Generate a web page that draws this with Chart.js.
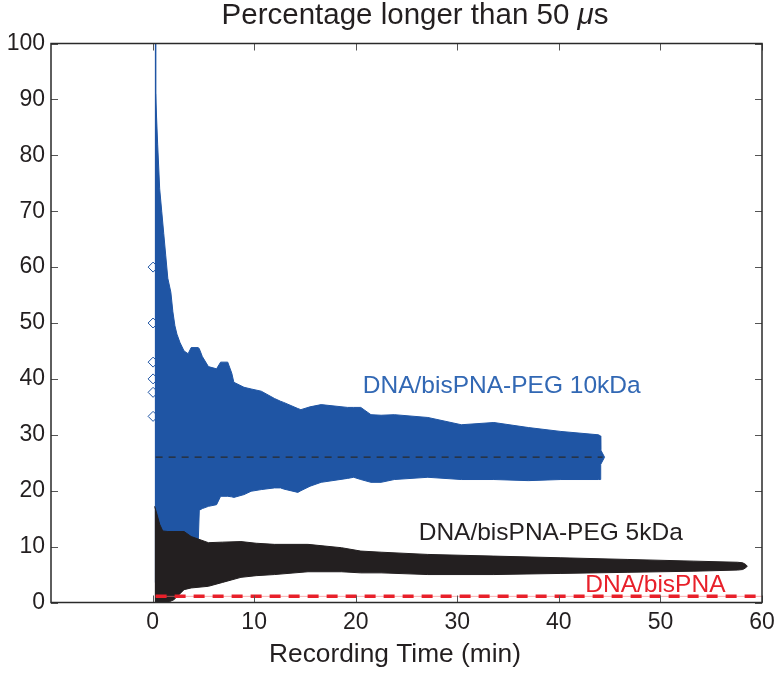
<!DOCTYPE html>
<html><head><meta charset="utf-8">
<script src="https://cdn.jsdelivr.net/npm/chart.js@4.4.0/dist/chart.umd.min.js"></script>
<style>html,body{margin:0;padding:0;background:#fff;}#wrap{width:774px;height:674px;}</style>
</head><body><div id="wrap"><canvas id="c" width="774" height="674"></canvas></div>
<script>
// ---- data ----
const xTicks = [0, 10, 20, 30, 40, 50, 60];
const yTicks = [0, 10, 20, 30, 40, 50, 60, 70, 80, 90, 100];

// DNA/bisPNA-PEG 10kDa: envelope of the error bars (upper / lower), minutes
const blueTime  = [0.3, 0.5, 0.7, 0.9, 1.1, 1.3, 1.5, 1.8, 2.0, 2.2, 2.4, 2.7, 3.1, 3.5, 3.8, 4.5, 4.6, 4.9, 5.5, 6.3, 6.7, 7.4, 7.8, 8.0, 9.0, 9.7, 10.7, 12.0, 12.6, 12.9, 14.3, 14.6, 15.5, 16.6, 19.2, 19.8, 20.5, 21.5, 22.5, 23.8, 27.1, 30.4, 33.6, 37.0, 40.2, 43.9, 44.1, 44.12, 44.5];
const blueUpper = [91, 82, 74, 70, 66, 62, 58, 55.5, 52, 49.5, 48, 46.5, 45, 44.5, 45.6, 45.6, 45.4, 44, 42.2, 41.8, 43, 43, 41, 39.4, 38.5, 38.2, 37.8, 36.5, 36, 35.8, 34.7, 34.5, 35, 35.4, 34.9, 34.9, 34.9, 33.6, 33.5, 33.6, 33.1, 31.8, 32.2, 31.3, 30.6, 30.0, 29.8, 27.3, 26];
const blueLower = [10, 10, 10, 10, 10, 10, 10, 10, 10, 10, 10, 10, 10, 11, 11, 11, 16.5, 16.8, 17.2, 17.5, 19, 19, 18.9, 18.8, 19.3, 19.9, 20.2, 20.5, 20.5, 20.3, 19.7, 20, 20.8, 21.5, 22.2, 22.4, 22, 21.5, 21.5, 22, 22.4, 22, 22, 21.8, 22, 22, 22, 24.7, 26];
const blueMean = 26;
const blueMeanSpan = [0.3, 44.3];
const blueSpikeTime = 0.3;
const blueSpikeRange = [3.6, 100];
const blueDiamondTime = 0.05;
const blueDiamondValues = [60, 50, 43, 40, 37.6, 33.3];

// DNA/bisPNA-PEG 5kDa
const blackTime  = [0.2, 0.4, 0.7, 1.0, 1.5, 2.1, 3.1, 3.8, 5.5, 6.9, 8.7, 10.2, 12.0, 15.3, 18.6, 20.5, 22.5, 27.1, 33.6, 40.2, 46.8, 53.3, 57.6, 58.1, 58.4, 58.55];
const blackUpper = [17.2, 16, 14, 12.8, 12.7, 12.7, 12.7, 11.8, 10.7, 10.8, 10.9, 10.6, 10.4, 10.4, 9.8, 9.2, 9.0, 8.6, 8.3, 8.0, 7.7, 7.4, 7.2, 7.1, 6.8, 6.5];
const blackLower = [0, 0, 0, 0, 0, 0.5, 2.3, 2.6, 2.9, 3.6, 4.5, 4.8, 5.0, 5.5, 5.5, 5.3, 5.3, 5.0, 5.0, 5.2, 5.4, 5.6, 5.8, 5.9, 6.2, 6.5];

// DNA/bisPNA
const redLevel = 1.1;
const redSpan = [0.3, 60];

const seriesNames = ['DNA/bisPNA-PEG 10kDa', 'DNA/bisPNA-PEG 5kDa', 'DNA/bisPNA'];
const titleParts = ['Percentage longer than 50 ', 'μ', 's'];
const xAxisTitle = 'Recording Time (min)';

// ---- colours ----
const BLUE = 'rgb(31,85,164)';
const BLUE_TEXT = 'rgb(50,104,180)';
const BLACK = '#231f20';
const RED = '#e8202a';
const FONT = '"Liberation Sans", Arial, Helvetica, sans-serif';

const pts = (xs, ys) => xs.map((x, i) => ({x: x, y: ys[i]}));
const flat = (xs, v) => xs.map(x => ({x: x, y: v}));

const datasets = [
  {data: flat(redSpan, redLevel), borderColor: RED, borderWidth: 3.5, borderDash: [11, 8], order: 0},
  {data: flat(redSpan, redLevel), borderColor: 'rgba(240,120,120,0.6)', borderWidth: 1, order: 0.5},
  {data: pts(blackTime, blackUpper), borderColor: BLACK, borderWidth: 1, backgroundColor: BLACK, fill: 3, order: 1},
  {data: pts(blackTime, blackLower), borderColor: BLACK, borderWidth: 1, order: 1},
  {data: flat(blueMeanSpan, blueMean), borderColor: '#2a2a2a', borderWidth: 1.3, borderDash: [7, 6], order: 2},
  {data: pts(blueTime, blueUpper), borderColor: BLUE, borderWidth: 1, backgroundColor: BLUE, fill: 6, order: 3},
  {data: pts(blueTime, blueLower), borderColor: BLUE, borderWidth: 1, order: 3},
  {data: blueSpikeRange.map(v => ({x: blueSpikeTime, y: v})), borderColor: BLUE, borderWidth: 1.5, order: 4},
  {data: blueDiamondValues.map(v => ({x: blueDiamondTime, y: v})), showLine: false, pointStyle: 'rectRot',
   pointRadius: 5, pointBorderColor: BLUE, pointBackgroundColor: '#fff', pointBorderWidth: 1, order: 5}
];
datasets.forEach(d => { if (d.pointRadius === undefined) d.pointRadius = 0; d.tension = 0; });

const annotations = [
  {text: seriesNames[0], x: 20.7, y: 38.6, color: BLUE_TEXT},
  {text: seriesNames[1], x: 26.2, y: 12.4, color: BLACK},
  {text: seriesNames[2], x: 42.6, y: 3.1, color: RED}
];

const framePlugin = {
  id: 'frame',
  afterDatasetsDraw(chart) {
    const {ctx, chartArea: a, scales: {x, y}} = chart;
    ctx.save();
    ctx.font = '24.5px ' + FONT;
    ctx.textBaseline = 'middle';
    ctx.textAlign = 'left';
    annotations.forEach(an => {
      ctx.fillStyle = an.color;
      ctx.fillText(an.text, x.getPixelForValue(an.x), y.getPixelForValue(an.y));
    });
    // inside ticks
    ctx.strokeStyle = '#555';
    ctx.lineWidth = 1;
    const L = 7;
    xTicks.forEach(v => {
      const px = Math.round(x.getPixelForValue(v)) + 0.5;
      ctx.beginPath();
      ctx.moveTo(px, a.bottom); ctx.lineTo(px, a.bottom - L);
      ctx.moveTo(px, a.top); ctx.lineTo(px, a.top + L);
      ctx.stroke();
    });
    yTicks.forEach(v => {
      const py = Math.round(y.getPixelForValue(v)) + 0.5;
      ctx.beginPath();
      ctx.moveTo(a.left, py); ctx.lineTo(a.left + L, py);
      ctx.moveTo(a.right, py); ctx.lineTo(a.right - L, py);
      ctx.stroke();
    });
    ctx.strokeStyle = '#2a2a2a';
    ctx.lineWidth = 1.5;
    ctx.strokeRect(a.left, a.top, a.right - a.left, a.bottom - a.top);

    // title with italic mu
    const fN = '29.5px ' + FONT, fI = 'italic 29.5px ' + FONT;
    const fonts = [fN, fI, fN];
    let widths = titleParts.map((t, i) => { ctx.font = fonts[i]; return ctx.measureText(t).width; });
    let total = widths.reduce((s, w) => s + w, 0);
    let tx = 415 - total / 2;
    ctx.fillStyle = BLACK;
    ctx.textBaseline = 'alphabetic';
    ctx.textAlign = 'left';
    titleParts.forEach((t, i) => { ctx.font = fonts[i]; ctx.fillText(t, tx, 23.5); tx += widths[i]; });

    // x axis title
    ctx.font = '26.3px ' + FONT;
    ctx.textAlign = 'center';
    ctx.textBaseline = 'middle';
    ctx.fillText(xAxisTitle, 395, 655);
    ctx.restore();
  }
};

new Chart(document.getElementById('c'), {
  type: 'line',
  data: {datasets: datasets},
  plugins: [framePlugin],
  options: {
    responsive: false,
    animation: false,
    devicePixelRatio: 1,
    layout: {padding: {left: 0, right: 12, top: 43.5, bottom: 0}},
    plugins: {
      legend: {display: false},
      tooltip: {enabled: false},
      title: {display: false}
    },
    scales: {
      x: {
        type: 'linear', position: 'bottom', min: -10, max: 60,
        grid: {display: false, drawTicks: false}, border: {display: false},
        afterBuildTicks: s => { s.ticks = xTicks.map(v => ({value: v})); },
        afterFit: s => { s.height = 71.5; s.paddingRight = 0; s.paddingLeft = 0; },
        ticks: {color: BLACK, font: {family: FONT, size: 23}, padding: 6, maxRotation: 0},
        title: {display: false}
      },
      y: {
        type: 'linear', min: 0, max: 100,
        grid: {display: false, drawTicks: false}, border: {display: false},
        afterBuildTicks: s => { s.ticks = yTicks.map(v => ({value: v})); },
        afterFit: s => { s.width = 51; s.paddingTop = 0; s.paddingBottom = 0; },
        ticks: {color: BLACK, font: {family: FONT, size: 23}, padding: 6}
      }
    }
  }
});
</script></body></html>
